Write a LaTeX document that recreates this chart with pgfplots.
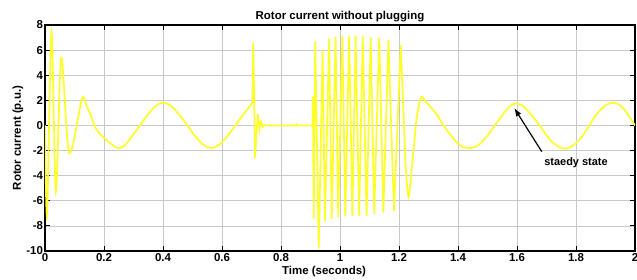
\documentclass[border=0pt]{standalone}
\usepackage{fontspec}
\setmainfont{Liberation Sans}
\usepackage{pgfplots}
\pgfplotsset{compat=1.18}
\usetikzlibrary{arrows.meta}
\definecolor{curve}{RGB}{255,255,40}
\definecolor{gridc}{RGB}{200,200,200}
\begin{document}
\begin{tikzpicture}
\begin{axis}[
  at={(0,0)}, anchor=south west,
  scale only axis, width=590bp, height=226bp,
  xmin=0, xmax=2, ymin=-10, ymax=8,
  xtick={0,0.2,...,2}, ytick={-10,-8,...,8},
  xticklabels={0,0.2,0.4,0.6,0.8,1,1.2,1.4,1.6,1.8,2},
  yticklabels={-10,-8,-6,-4,-2,0,2,4,6,8},
  tick align=inside, major tick length=5bp,
  tick style={black, line width=1pt},
  axis line style={black, line width=1.2pt},
  grid=major, major grid style={gridc, line width=0.6pt},
  ticklabel style={font=\bfseries\fontsize{11.5}{12}\selectfont},
  xticklabel style={yshift=1bp},
  yticklabel style={xshift=1.5bp},
  every axis title shift=0pt,
  title={\bfseries Rotor current without plugging},
  title style={font=\bfseries\fontsize{11.5}{12}\selectfont, at={(axis description cs:0.5,1)}, anchor=base, yshift=6bp},
  xlabel={Time (seconds)},
  xlabel style={font=\bfseries\fontsize{11.5}{12}\selectfont, at={(axis description cs:0.473,0)}, anchor=center, yshift=-21bp},
  ylabel={Rotor current (p.u.)},
  ylabel style={font=\bfseries\fontsize{11.5}{12}\selectfont, at={(axis description cs:-0.046,0.5)}, anchor=center},
  clip=true,
]
\addplot[curve, line width=1.7pt, smooth, tension=0.5] coordinates {
(0,0) (0.007,-7.2) (0.022,7.5) (0.037,-5.3) (0.055,5.4) (0.082,-2.2)
(0.125,2.1) (0.14,1.6) (0.155,0.8) (0.175,-0.35) (0.21,-1.2) (0.246,-1.8)
(0.27,-1.6) (0.30,-0.7) (0.325,0.1) (0.35,0.9) (0.375,1.55) (0.40,1.8)
(0.425,1.6) (0.45,1.0) (0.48,0.1) (0.51,-0.9) (0.54,-1.6) (0.563,-1.8)
(0.59,-1.55) (0.62,-0.8) (0.645,0.0) (0.67,0.8) (0.69,1.4) (0.703,1.8)
};
\addplot[curve, line width=1.7pt] coordinates {
(0.703,1.8) (0.706,6.6) (0.712,-2.6) (0.717,-0.5) (0.722,0.9) (0.727,-0.3)
(0.732,0.3) (0.738,-0.1) (0.745,0.05) (0.75,0) (0.85,0) (0.853,0.1) (0.856,0)
(0.907,0) (0.908,2.3) (0.911,-7.4) (0.916,6.7) (0.928,-9.8) (0.941,6.0)
(0.949,-7.66) (0.963,6.9) (0.972,-7.45) (0.985,7.1) (0.994,-7.3) (1.008,7.15)
(1.018,-7.2) (1.031,7.15) (1.042,-7.2) (1.053,7.15) (1.065,-7.2) (1.077,7.15)
(1.090,-7.2) (1.104,7.0) (1.116,-7.05) (1.133,7.0) (1.147,-6.94) (1.164,6.8)
(1.183,-6.8) (1.206,6.4) (1.222,-3.0)
};
\addplot[curve, line width=1.7pt, smooth, tension=0.5] coordinates {
(1.222,-3.0) (1.232,-5.7) (1.245,-3.0) (1.26,0.6) (1.275,2.25) (1.29,1.9) (1.31,1.4)
(1.33,0.8) (1.36,-0.3) (1.39,-1.2) (1.415,-1.7) (1.445,-1.8) (1.47,-1.55)
(1.50,-0.8) (1.525,0) (1.55,0.8) (1.575,1.5) (1.595,1.75) (1.62,1.55)
(1.65,0.8) (1.68,-0.1) (1.71,-1.1) (1.74,-1.7) (1.765,-1.85) (1.79,-1.6)
(1.82,-0.9) (1.845,0) (1.87,0.9) (1.90,1.6) (1.925,1.8) (1.95,1.6)
(1.975,0.9) (2.0,0)
};
\draw[-{Latex[length=8bp,width=6bp]}, black, line width=1.2pt] (axis cs:1.684,-2.09) -- (axis cs:1.591,1.37);
\node[font=\bfseries\fontsize{11}{12}\selectfont, anchor=center] at (axis cs:1.80,-2.93) {staedy state};
\end{axis}
\pgfresetboundingbox
\useasboundingbox (-45bp,-29bp) rectangle (592bp,251bp);
\end{tikzpicture}
\end{document}
